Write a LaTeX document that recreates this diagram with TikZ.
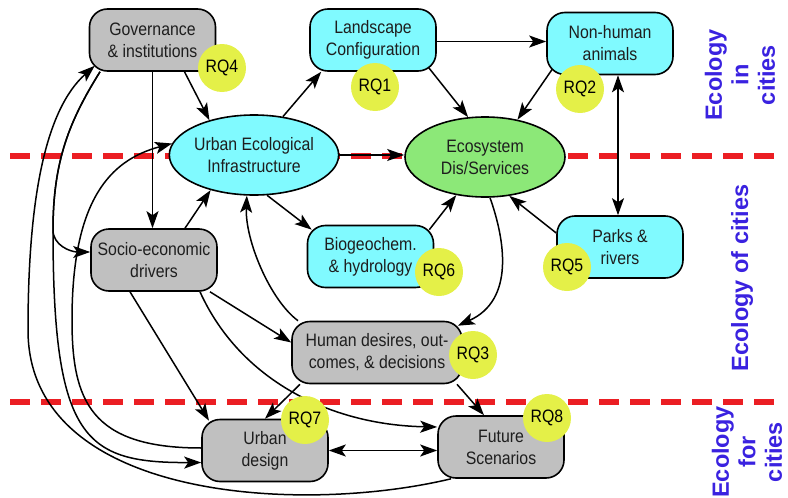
\documentclass[tikz,border=0pt]{standalone}
\usepackage{fontspec}
\setmainfont{Liberation Sans}
\newfontfamily\boxfont[FakeStretch=0.88]{Liberation Sans}
\usetikzlibrary{arrows.meta,shapes.geometric}

\definecolor{boxgray}{RGB}{192,192,192}
\definecolor{boxcyan}{RGB}{128,250,255}
\definecolor{boxgreen}{RGB}{140,232,120}
\definecolor{rqyellow}{RGB}{228,240,72}
\definecolor{divred}{RGB}{235,30,35}
\definecolor{scaleblue}{RGB}{58,34,224}
\definecolor{inktext}{RGB}{30,30,30}

\begin{document}
\begin{tikzpicture}[x=1pt,y=-1pt,
  every node/.style={inner sep=0pt},
  box/.style={draw=black, line width=1.6pt, rounded corners=18pt,
    minimum width=126pt, minimum height=62pt, align=center,
    font=\boxfont\fontsize{18}{22}\selectfont, text=inktext},
  graybox/.style={box, fill=boxgray},
  cyanbox/.style={box, fill=boxcyan},
  oval/.style={ellipse, draw=black, line width=1.6pt, minimum width=160pt,
    minimum height=80pt, align=center,
    font=\boxfont\fontsize{18}{22}\selectfont, text=inktext},
  rq/.style={circle, fill=rqyellow, minimum size=48pt,
    font=\boxfont\fontsize{18}{20}\selectfont, text=black},
  link/.style={line width=1.5pt, -{Stealth[length=17pt,width=12pt,inset=4pt]}},
  twoway/.style={line width=1.5pt,
    {Stealth[length=17pt,width=12pt,inset=4pt]}-{Stealth[length=17pt,width=12pt,inset=4pt]}},
  divider/.style={divred, line width=6pt, dash pattern=on 20pt off 11pt},
  scalelabel/.style={rotate=90, align=center, text=scaleblue,
    font=\bfseries\fontsize{23.5}{26.5}\selectfont}
]
\useasboundingbox (0,0) rectangle (788,498);

% scale dividers
\draw[divider] (10,156) -- (779,156);
\draw[divider] (10,402) -- (779,402);

% boxes and ovals
\node[graybox] (gov) at (152.5,40) {Governance\\\& institutions};
\node[cyanbox] (land) at (373,40) {Landscape\\Configuration};
\node[cyanbox] (animals) at (610,43.5) {Non-human\\animals};
\node[oval, fill=boxcyan] (uei) at (254,155) {Urban Ecological\\Infrastructure};
\node[oval, fill=boxgreen] (eco) at (485,157) {Ecosystem\\Dis/Services};
\node[graybox] (socio) at (154,260) {Socio-economic\\drivers};
\node[cyanbox] (bio) at (370.5,256.5) {Biogeochem.\\\& hydrology};
\node[cyanbox] (parks) at (620,247) {Parks \&\\rivers};
\node[graybox, minimum width=170pt] (human) at (377,352.5) {Human desires, out-\\comes, \& decisions};
\node[graybox] (design) at (265,450.5) {Urban\\design};
\node[graybox] (future) at (501,447) {Future\\Scenarios};

% branch point shared by the two curves leaving governance on the left
\coordinate (split) at (53,230);

% links
\draw[link] ([xshift=32pt]gov.south) -- (uei.142);
\draw[link] (gov.south) -- (gov.south |- socio.north);
\draw[link] ([xshift=-52.5pt]gov.south) .. controls (70,120) and (53,160) .. (split)
  .. controls (53,245) and (70,252) .. ([yshift=8pt]socio.west);
\draw[link] ([xshift=-52.5pt]gov.south) .. controls (70,120) and (53,160) .. (split)
  .. controls (53,440) and (85,463) .. ([yshift=-12pt]design.west);
\draw[link] ([xshift=-50pt]future.south) .. controls (300,515) and (28,500) .. (28,330)
  .. controls (28,200) and (45,110) .. ([xshift=6pt,yshift=6pt]gov.south west);
\draw[link] ([yshift=2.5pt]design.west) .. controls (90,448) and (72,400) .. (72,320)
  .. controls (72,200) and (110,160) .. (uei.172);
\draw[link] ([xshift=31pt]socio.north) -- (uei.219);
\draw[link] ([xshift=-24pt]socio.south) -- ([xshift=-56pt,yshift=-2pt]design.north);
\draw[link] ([xshift=56pt]socio.south) -- ([yshift=10pt]human.west);
\draw[link] ([xshift=46pt]socio.south) .. controls (240,380) and (330,425) .. ([yshift=20pt]future.west);
\draw[link] ([xshift=-77pt]human.south) -- (design.north);
\draw[link] ([xshift=80pt]human.south) -- ([xshift=-17pt]future.north);
\draw[twoway] (design.east) -- (design.east -| future.west);
\draw[link] ([xshift=-79pt]human.north) .. controls (270,300) and (245,240) .. (uei.260);
\draw[link] (uei.288) -- ([xshift=5pt,yshift=-5pt]bio.north west);
\draw[link] ([xshift=-5pt,yshift=-5pt]bio.north east) -- (eco.233);
\draw[link] (eco.277) .. controls (505,240) and (515,300) .. ([xshift=-5pt,yshift=-5pt]human.north east);
\draw[link] ([yshift=14pt]parks.west) -- (eco.302);
\draw[twoway] ([xshift=8pt]animals.south) -- ([xshift=8pt]animals.south |- parks.north);
\draw[link] ([xshift=6pt,yshift=6pt]animals.south west) -- (eco.49);
\draw[link] ([xshift=-8pt,yshift=4pt]land.south east) -- (eco.113);
\draw[link] ([yshift=-1.5pt]land.east) -- ([yshift=-1.5pt]land.east -| animals.west);
\draw[link] (uei.53) -- ([xshift=12pt]land.south west);
\draw[link] (uei.east) -- (uei.east -| eco.west);

% research question badges
\node[rq] (rq4) at (222,68) {RQ4};
\node[rq] (rq1) at (375,87) {RQ1};
\node[rq] (rq2) at (580,89) {RQ2};
\node[rq] (rq6) at (439,272) {RQ6};
\node[rq] (rq5) at (567,267) {RQ5};
\node[rq] (rq3) at (473,355) {RQ3};
\node[rq] (rq7) at (305,420) {RQ7};
\node[rq] (rq8) at (547,418) {RQ8};

% scale labels
\node[scalelabel] (incities) at (740,75) {Ecology\\in\\cities};
\node[scalelabel] (ofcities) at (742,278) {Ecology of cities};
\node[scalelabel] (forcities) at (747,452) {Ecology\\for\\cities};
\end{tikzpicture}
\end{document}
